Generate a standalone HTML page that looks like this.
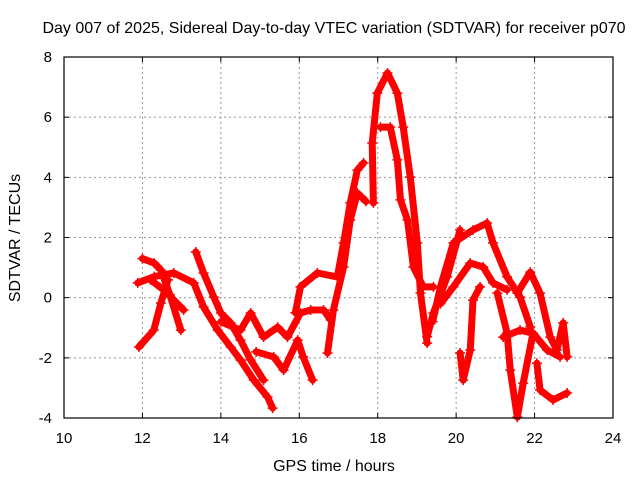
<!DOCTYPE html>
<html><head><meta charset="utf-8"><style>
body{margin:0;background:#fff;}
svg{display:block;font-family:"Liberation Sans",sans-serif;}
</style></head><body>
<svg id="chart" width="640" height="480" xmlns="http://www.w3.org/2000/svg">
<rect width="640" height="480" fill="#fff"/>
<text x="334" y="33" font-size="16" text-anchor="middle" fill="#000">Day 007 of 2025, Sidereal Day-to-day VTEC variation (SDTVAR) for receiver p070</text>
<text x="334" y="471" font-size="16" text-anchor="middle">GPS time / hours</text>
<text transform="translate(20,238) rotate(-90)" font-size="16" text-anchor="middle">SDTVAR / TECUs</text>
<g id="grid"></g><g id="series"></g><g id="axes"></g>
</svg>
<script>
const xTicks=[10,12,14,16,18,20,22,24];
const yTicks=[-4,-2,0,2,4,6,8];
const track1=[[11.88,0.49],[12.3,0.7],[12.8,0.82],[13.31,0.49],[13.56,-0.31],[13.92,-1.08],[14.25,-1.64],[14.5,-2.07],[14.84,-2.74],[15.19,-3.3],[15.32,-3.67]];
const track2=[[13.36,1.52],[13.56,0.82],[13.82,0.02],[14.0,-0.51],[14.25,-0.84],[14.5,-1.41],[14.76,-2.07],[15.09,-2.74]];
const track3=[[12.0,1.3],[12.3,1.15],[12.47,0.92],[12.7,0.1],[12.98,-1.08]];
const track4=[[12.2,0.6],[12.55,0.25],[13.05,-0.41]];
const track5=[[11.91,-1.64],[12.29,-1.08],[12.47,-0.18],[12.65,0.59]];
const track6=[[14.0,-0.8],[14.5,-1.08],[14.76,-0.51],[15.09,-1.31],[15.45,-0.98],[15.7,-1.31],[16.03,-0.51],[16.29,-0.41],[16.62,-0.41],[16.8,-0.74]];
const track7=[[14.9,-1.8],[15.35,-1.97],[15.6,-2.41],[15.96,-1.41],[16.1,-1.97],[16.34,-2.74]];
const track8=[[15.9,-0.5],[16.03,0.36],[16.46,0.82],[16.97,0.69],[17.13,1.82],[17.3,3.15],[17.48,4.24],[17.64,4.48]];
const track9=[[16.72,-1.84],[16.87,-0.41],[17.13,1.02],[17.3,2.58],[17.48,3.48],[17.7,3.2]];
const track10=[[17.89,3.15],[17.86,5.14],[17.99,6.8],[18.25,7.47],[18.5,6.8],[18.65,5.67],[18.83,4.01],[19.01,1.82],[19.09,0.15],[19.26,-1.51]];
const track11=[[18.07,5.67],[18.32,5.67],[18.5,4.58],[18.58,3.25],[18.76,2.58],[18.91,1.02],[19.16,0.36],[19.42,0.36]];
const track12=[[19.26,-1.3],[19.42,-0.51],[19.77,0.69],[20.1,2.25]];
const track13=[[19.4,-0.8],[19.6,0.36],[19.93,1.82],[20.43,2.25],[20.79,2.48],[20.94,1.82],[21.3,0.69],[21.63,0.02],[21.89,-0.97]];
const track14=[[19.6,-0.2],[19.93,0.36],[20.36,1.15],[20.69,1.02],[20.94,0.49],[21.3,0.26]];
const track15=[[20.1,-1.84],[20.18,-2.74],[20.36,-1.74],[20.43,-0.08],[20.61,0.36]];
const track16=[[21.05,0.15],[21.3,-1.18],[21.38,-2.41],[21.56,-3.97],[21.71,-2.84],[21.96,-1.18]];
const track17=[[21.56,0.15],[21.89,0.85],[22.14,0.15],[22.4,-1.31],[22.57,-1.74],[22.73,-0.84],[22.83,-1.97]];
const track18=[[22.06,-2.18],[22.14,-3.07],[22.47,-3.4],[22.83,-3.17]];
const track19=[[21.2,-1.31],[21.63,-1.08],[21.96,-1.18],[22.32,-1.74],[22.65,-1.97]];
const tracks=[track1,track2,track3,track4,track5,track6,track7,track8,track9,track10,track11,track12,track13,track14,track15,track16,track17,track18,track19];
const X0=64,X1=613,Y0=418,Y1=57;
const sx=h=>X0+(h-10)/(24-10)*(X1-X0);
const sy=v=>Y0-(v+4)/(8+4)*(Y0-Y1);
const NS="http://www.w3.org/2000/svg";
const grid=document.getElementById('grid'),ser=document.getElementById('series'),axes=document.getElementById('axes');
function mk(tag,at,parent){const e=document.createElementNS(NS,tag);for(const k in at)e.setAttribute(k,at[k]);parent.appendChild(e);return e;}
xTicks.forEach(t=>{
  if(t>10&&t<24){const g=mk('line',{x1:sx(t),x2:sx(t),y1:Y1,y2:Y0,stroke:'#999','stroke-dasharray':'2,3'},grid);
  
  }
  const tk=mk('path',{d:`M${sx(t)},${Y0}v-5M${sx(t)},${Y1}v5`,stroke:'#000'},axes);
  
  
  const l=mk('text',{x:sx(t),y:443,'font-size':15,'text-anchor':'middle'},axes);l.textContent=t;
  
  
});
yTicks.forEach(t=>{
  if(t>-4&&t<8){const g=mk('line',{x1:X0,x2:X1,y1:sy(t),y2:sy(t),stroke:'#999','stroke-dasharray':'2,3'},grid);
  
  }
  const tk=mk('path',{d:`M${X0},${sy(t)}h5M${X1},${sy(t)}h-5`,stroke:'#000'},axes);
  
  
  const l=mk('text',{x:52,y:sy(t)+5,'font-size':15,'text-anchor':'end'},axes);l.textContent=t;
  
  
});
const fr=mk('rect',{x:X0,y:Y1,width:X1-X0,height:Y0-Y1,fill:'none',stroke:'#000','stroke-width':1.2},axes);


tracks.forEach((tr,i)=>{
  const p=mk('polyline',{points:tr.map(d=>sx(d[0])+','+sy(d[1])).join(' '),fill:'none',stroke:'#f00','stroke-width':7,'stroke-linejoin':'round','stroke-linecap':'round'},ser);
  
  
  tr.forEach(d=>{
    const m=mk('path',{d:`M${sx(d[0])-5},${sy(d[1])}h10M${sx(d[0])},${sy(d[1])-5}v10`,stroke:'#f00','stroke-width':1.5},ser);
    
    
  });
});
</script>
</body></html>
